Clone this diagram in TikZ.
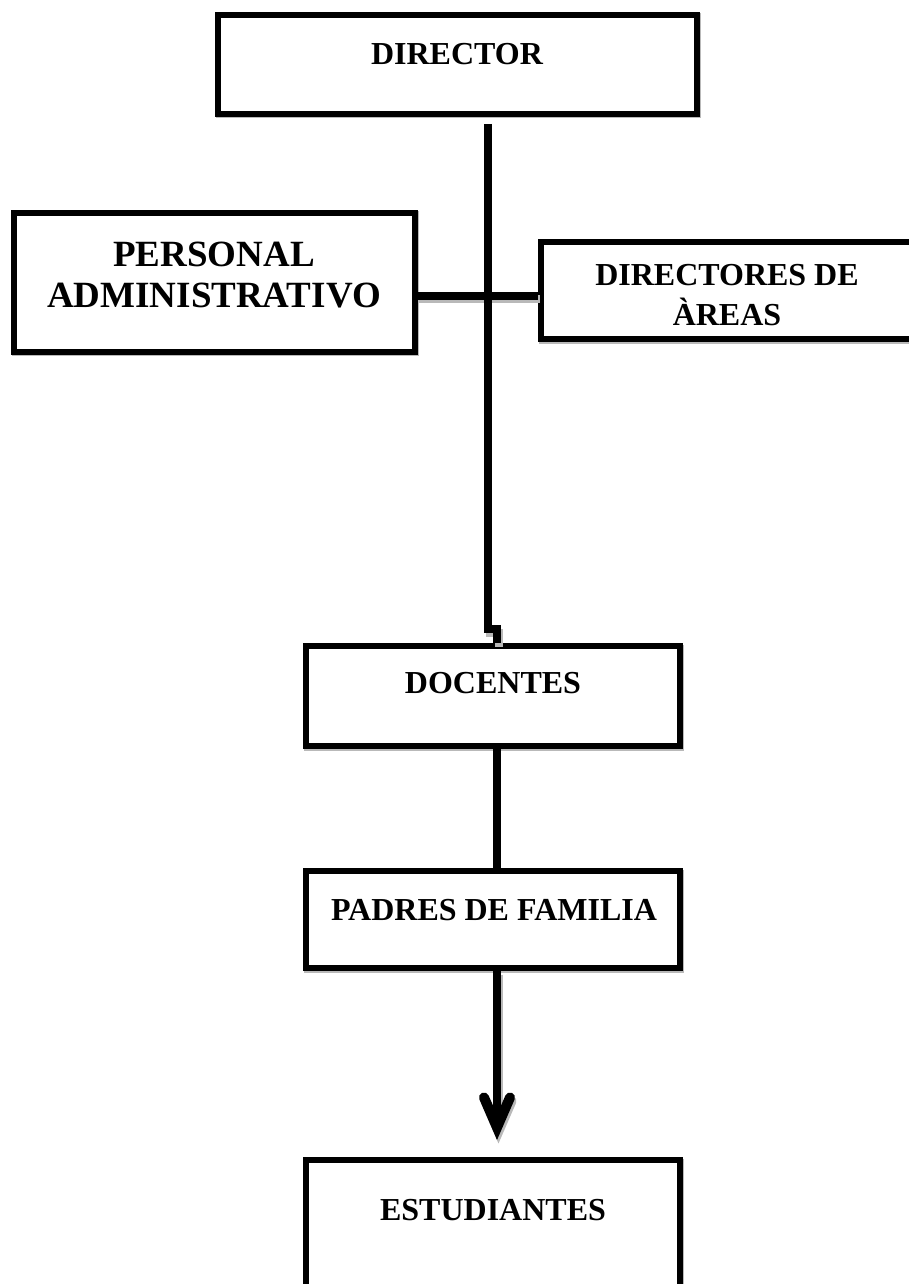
\documentclass[tikz,border=0pt]{standalone}
\usepackage{fontspec}
\setmainfont{Liberation Serif}
\usetikzlibrary{arrows.meta}
\begin{document}
\begin{tikzpicture}[x=1pt,y=-1pt,
  box/.style={draw=black, line width=6pt, rectangle, inner sep=0pt, fill=white,
    preaction={draw=gray!55, line width=6pt, transform canvas={shift={(1.2pt,-1.5pt)}}}},
  lbl/.style={font=\fontsize{32}{40}\selectfont\bfseries, inner sep=0pt, align=center},
  biglbl/.style={font=\fontsize{37}{41}\selectfont\bfseries, inner sep=0pt, align=center},
  conn/.style={draw=black, line width=8pt},
  shadowed/.style={preaction={draw=gray!55, line width=8pt, transform canvas={shift={(1.5pt,-3.5pt)}}}}
]
\useasboundingbox (0,0) rectangle (909,1284);
\clip (0,0) rectangle (909,1284);

% boxes
\node[box, minimum width=479pt, minimum height=99pt] (director) at (457.5,64.5) {};
\node[box, minimum width=401pt, minimum height=139pt] (personal) at (214,282) {};
\node[box, minimum width=372pt, minimum height=97pt] (directores) at (727,290.5) {};
\node[box, minimum width=374pt, minimum height=100pt] (docentes) at (493,696) {};
\node[box, minimum width=374pt, minimum height=97pt] (padres) at (493,919.5) {};
\node[box, minimum width=374pt, minimum height=200pt] (estudiantes) at (493,1260) {};

% texts
\node[lbl, anchor=base] (tdirector) at (457,65) {DIRECTOR};
\node[biglbl] (tpersonal) at (214,275) {PERSONAL\\ADMINISTRATIVO};
\node[lbl] (tdirectores) at (727,295.5) {DIRECTORES DE\\ÀREAS};
\node[lbl, anchor=base] (tdocentes) at (493,693) {DOCENTES};
\node[lbl, anchor=base] (tpadres) at (494,920) {PADRES DE FAMILIA};
\node[lbl, anchor=base] (testudiantes) at (493,1220) {ESTUDIANTES};

% coordinates
\coordinate (vtop) at (488,124);
\coordinate (jog) at (488,629);
\coordinate (hmid) at (488,295.5);
\coordinate (tip) at (497,1140);

% connectors
\draw[conn, shadowed] (personal.east |- hmid) -- (directores.west |- hmid);
\draw[conn] (vtop) -- (jog);
\draw[conn, shadowed, line cap=butt] ([xshift=-4pt]jog) -- ([xshift=9pt]jog) -- ([xshift=4pt]docentes.north);
\draw[conn] ([xshift=4pt]docentes.south) -- ([xshift=4pt]padres.north);
\draw[conn, shadowed, -{Straight Barb[length=30pt, width=26pt, line width=10pt, line cap=round, line join=miter]}] ([xshift=4pt]padres.south) -- (tip);
\end{tikzpicture}
\end{document}
